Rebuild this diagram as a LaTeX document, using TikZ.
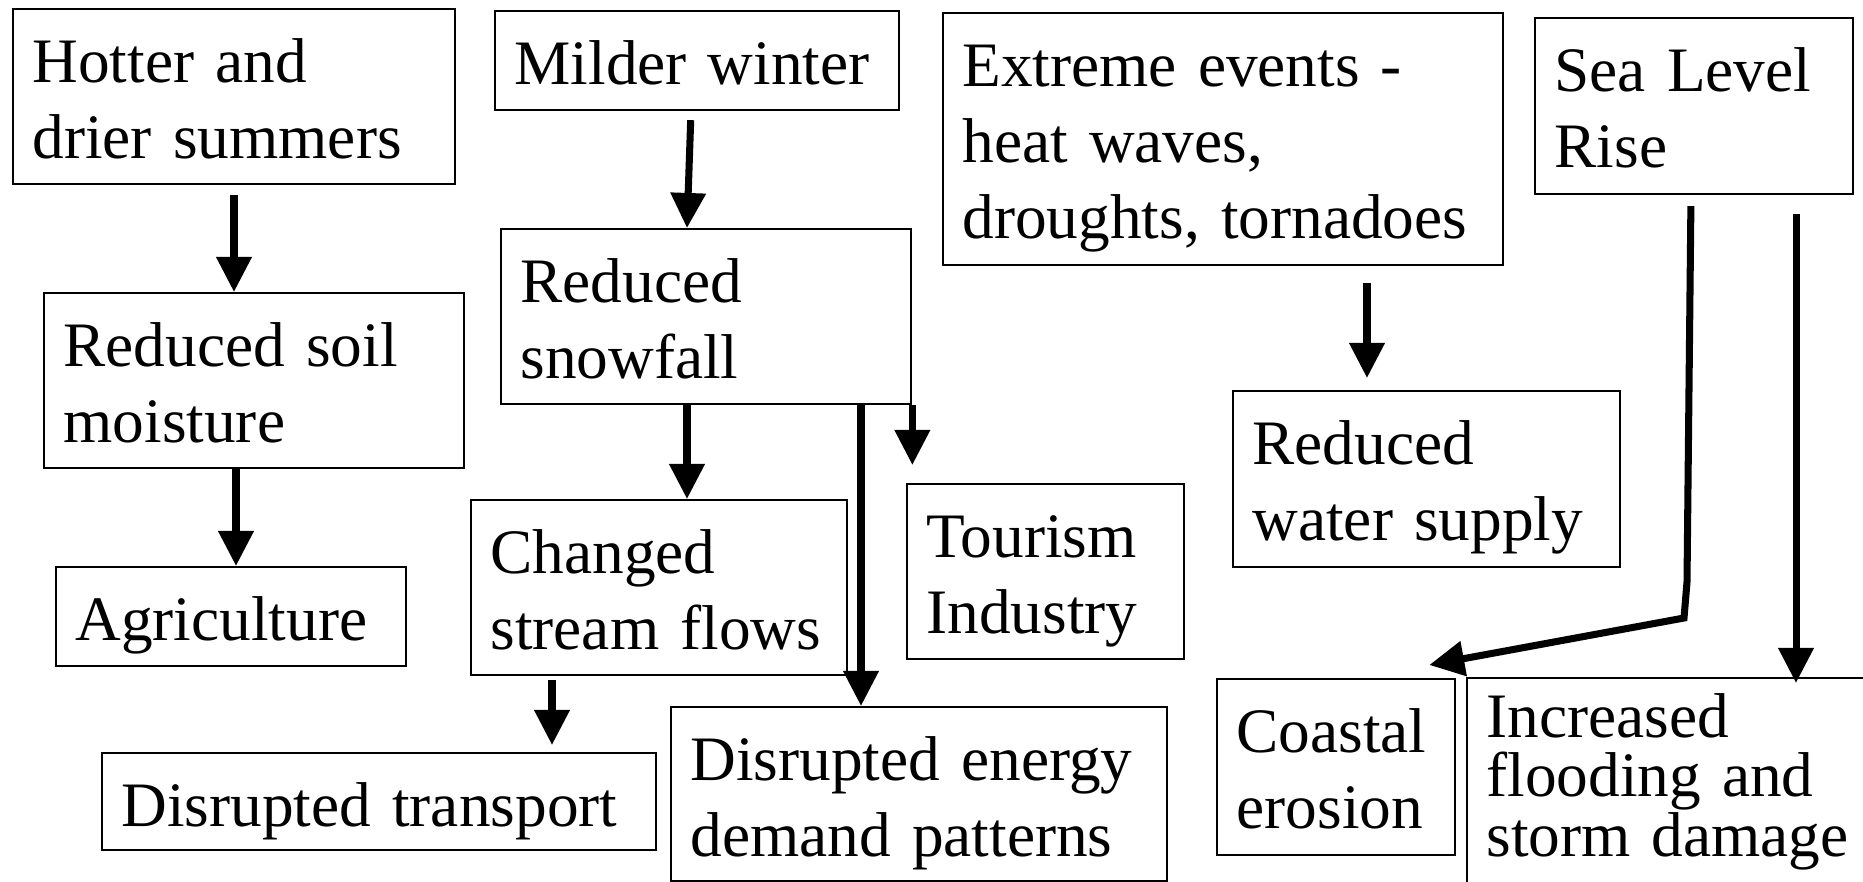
\documentclass[tikz,border=0pt]{standalone}
\usepackage{fontspec}
\setmainfont{Liberation Serif}
\usepackage{tikz}
\usetikzlibrary{arrows.meta}

\begin{document}
\begin{tikzpicture}
                [
                x=0.01cm, y=-0.01cm,
                box/.style={rectangle,draw,line width=0.6pt,anchor=north west,align=left,
                  inner xsep=0.195cm,inner ysep=0pt,text height=0.73cm,
                  font=\fontsize{18pt}{21.6pt}\selectfont},
                edge/.style={-{Triangle[length=0.35cm,width=0.34cm]},line width=2pt}
                ]
            \useasboundingbox (0,0) rectangle (1863,882);
            \node[box,text width=4.03cm,text depth=1.02cm] (hot) at (12,8) {Hotter and\\drier summers};
            \node[box,text width=3.81cm,text depth=1.02cm] (soil) at (43,292) {Reduced soil\\moisture};
            \node[box,text width=3.11cm,text depth=0.26cm] (agri) at (55,566) {Agriculture};
            \node[box,text width=3.65cm,text depth=0.26cm] (mild) at (494,10) {Milder winter};
            \node[box,text width=3.71cm,text depth=1.02cm] (snow) at (500,228) {Reduced\\snowfall};
            \node[box,text width=3.37cm,text depth=1.02cm] (flow) at (470,499) {Changed\\\mbox{stream flows}};
            \node[box,text width=2.38cm,text depth=1.02cm] (tour) at (906,483) {Tourism\\Industry};
            \node[box,text width=5.15cm,text depth=0.24cm] (trans) at (101,752) {Disrupted transport};
            \node[box,text width=4.57cm,text depth=1.01cm] (energy) at (670,706) {\mbox{Disrupted energy}\\demand patterns};
            \node[box,text width=5.21cm,text depth=1.79cm] (ext) at (942,12) {Extreme events -\\heat waves,\\\mbox{droughts, tornadoes}};
            \node[box,text width=3.48cm,text depth=1.03cm] (water) at (1232,390) {Reduced\\water supply};
            \node[box,text width=2.79cm,text depth=1.03cm] (sea) at (1534,17) {Sea Level\\Rise};
            \node[box,text width=1.99cm,text depth=1.03cm] (coast) at (1216,678) {Coastal\\erosion};
            \node[box,text width=3.81cm,text height=0.59cm,text depth=1.71cm,
              font=\fontsize{18pt}{17pt}\selectfont] (flood) at (1466,677) {Increased\\flooding and\\storm damage};
            \coordinate (kneeA) at (1687,582);
            \coordinate (kneeB) at (1684,618);
            \draw[edge,shorten <=0.1cm] (hot.south -| 234,0) -- (soil.north -| 234,0);
            \draw[edge] (soil.south -| 236,0) -- (agri.north -| 236,0);
            \draw[edge,shorten <=0.09cm] (mild.south -| 691,0) -- (snow.north -| 687,0);
            \draw[edge] (snow.south -| 687,0) -- (flow.north -| 687,0);
            \draw[edge] (snow.south -| 861,0) -- (energy.north -| 861,0);
            \draw[edge,shorten >=0.18cm] (snow.south east) -- (tour.north -| snow.south east);
            \draw[edge,shorten <=0.04cm,shorten >=0.07cm] (flow.south -| 552,0) -- (trans.north -| 552,0);
            \draw[edge,shorten <=0.17cm,shorten >=0.12cm] (ext.south -| 1367,0) -- (water.north -| 1367,0);
            \draw[edge,shorten <=0.11cm] (sea.south -| 1691,0) -- (kneeA) -- (kneeB) -- ([shift={(-27,-13)}]coast.north east);
            \draw[edge,shorten <=0.19cm,shorten >=-0.06cm] (sea.south -| 1796,0) -- (flood.north -| 1796,0);
            \end{tikzpicture}
\end{document}
